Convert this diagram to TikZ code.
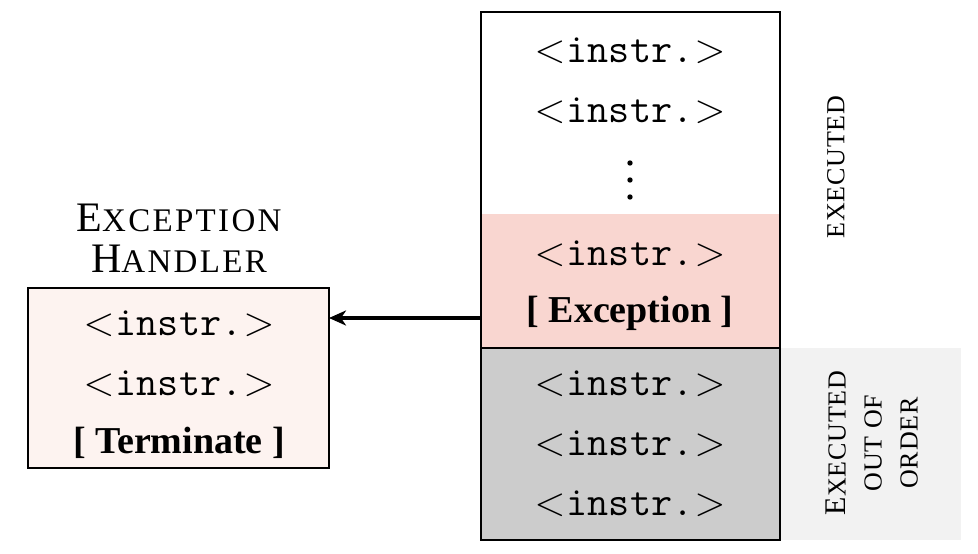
\RequirePackage{fix-cm}
\documentclass[tikz,border=0pt]{standalone}
\usepackage{fontspec}
\setmainfont{Liberation Serif}
\usetikzlibrary{arrows.meta}
\definecolor{pinkfill}{RGB}{249,214,208}
\definecolor{grayfill}{RGB}{204,204,204}
\definecolor{ltgray}{RGB}{242,242,242}
\definecolor{handlerfill}{RGB}{253,243,240}
\newcommand{\instr}{$<$\kern1pt{\ttfamily\addfontfeature{FakeBold=2}instr.}\kern1pt$>$}
\newcommand{\titlesc}[2]{{\fontsize{42}{41}\selectfont #1}{\fontsize{33}{41}\selectfont\addfontfeature{LetterSpace=7}#2}}
\newcommand{\lblsc}[1]{{\fontsize{26}{36}\selectfont\addfontfeature{LetterSpace=3}#1}}
\begin{document}
\begin{tikzpicture}[x=1pt,y=-1pt,
  region/.style={rectangle, inner sep=0pt, outer sep=0pt, anchor=north west},
  border/.style={draw=black, line width=1.7pt},
  instrtext/.style={anchor=base, inner sep=0pt, font=\fontsize{41}{40}\selectfont},
  boldtext/.style={anchor=base, inner sep=0pt, font=\fontsize{38}{40}\selectfont\bfseries},
  sidelabel/.style={rotate=90, inner sep=0pt, align=center},
  flowarrow/.style={-{Stealth[length=17pt,width=15pt,inset=5pt]}, line width=3.2pt}]
\useasboundingbox (0,0) rectangle (978,554);
% regions
\node[region, fill=ltgray, minimum width=181pt, minimum height=192pt] (oooarea) at (780,348) {};
\node[region, fill=pinkfill, minimum width=299pt, minimum height=134pt] (excpart) at (481,214) {};
\node[region, fill=grayfill, border, minimum width=299pt, minimum height=192pt] (ooopart) at (481,348) {};
\node[region, border, minimum width=299pt, minimum height=528pt] (column) at (481,12) {};
\node[region, fill=handlerfill, border, line width=1.5pt, minimum width=301pt, minimum height=180pt] (handler) at (28,288) {};
% column texts
\node[instrtext] (c1) at (630,62) {\instr};
\node[instrtext] (c2) at (630,122) {\instr};
\fill (630,163) circle[radius=2.7pt];
\fill (630,180) circle[radius=2.7pt];
\fill (630,197) circle[radius=2.7pt];
\node[instrtext] (c3) at (630,265) {\instr};
\node[boldtext] (cexc) at (630,322) {[ Exception ]};
\node[instrtext] (c4) at (630,395) {\instr};
\node[instrtext] (c5) at (630,455) {\instr};
\node[instrtext] (c6) at (630,515) {\instr};
% handler texts
\node[anchor=base, inner sep=0pt] (ht1) at (179,231) {\titlesc{E}{XCEPTION}};
\node[anchor=base, inner sep=0pt] (ht2) at (179,272) {\titlesc{H}{ANDLER}};
\node[instrtext] (h1) at (179,335) {\instr};
\node[instrtext] (h2) at (179,395) {\instr};
\node[boldtext] (hterm) at (179,453) {[ Terminate ]};
% side labels
\node[sidelabel] (lblexec) at (836,167) {\lblsc{EXECUTED}};
\node[sidelabel, font=\fontsize{26}{36}\selectfont] (lblooo) at (872,443) {{\fontsize{30}{36}\selectfont E}\lblsc{XECUTED}\\\lblsc{OUT OF}\\\lblsc{ORDER}};
% arrow
\coordinate (arrstart) at (481,318);
\draw[flowarrow] (arrstart) -- (arrstart -| handler.east);
\end{tikzpicture}
\end{document}
